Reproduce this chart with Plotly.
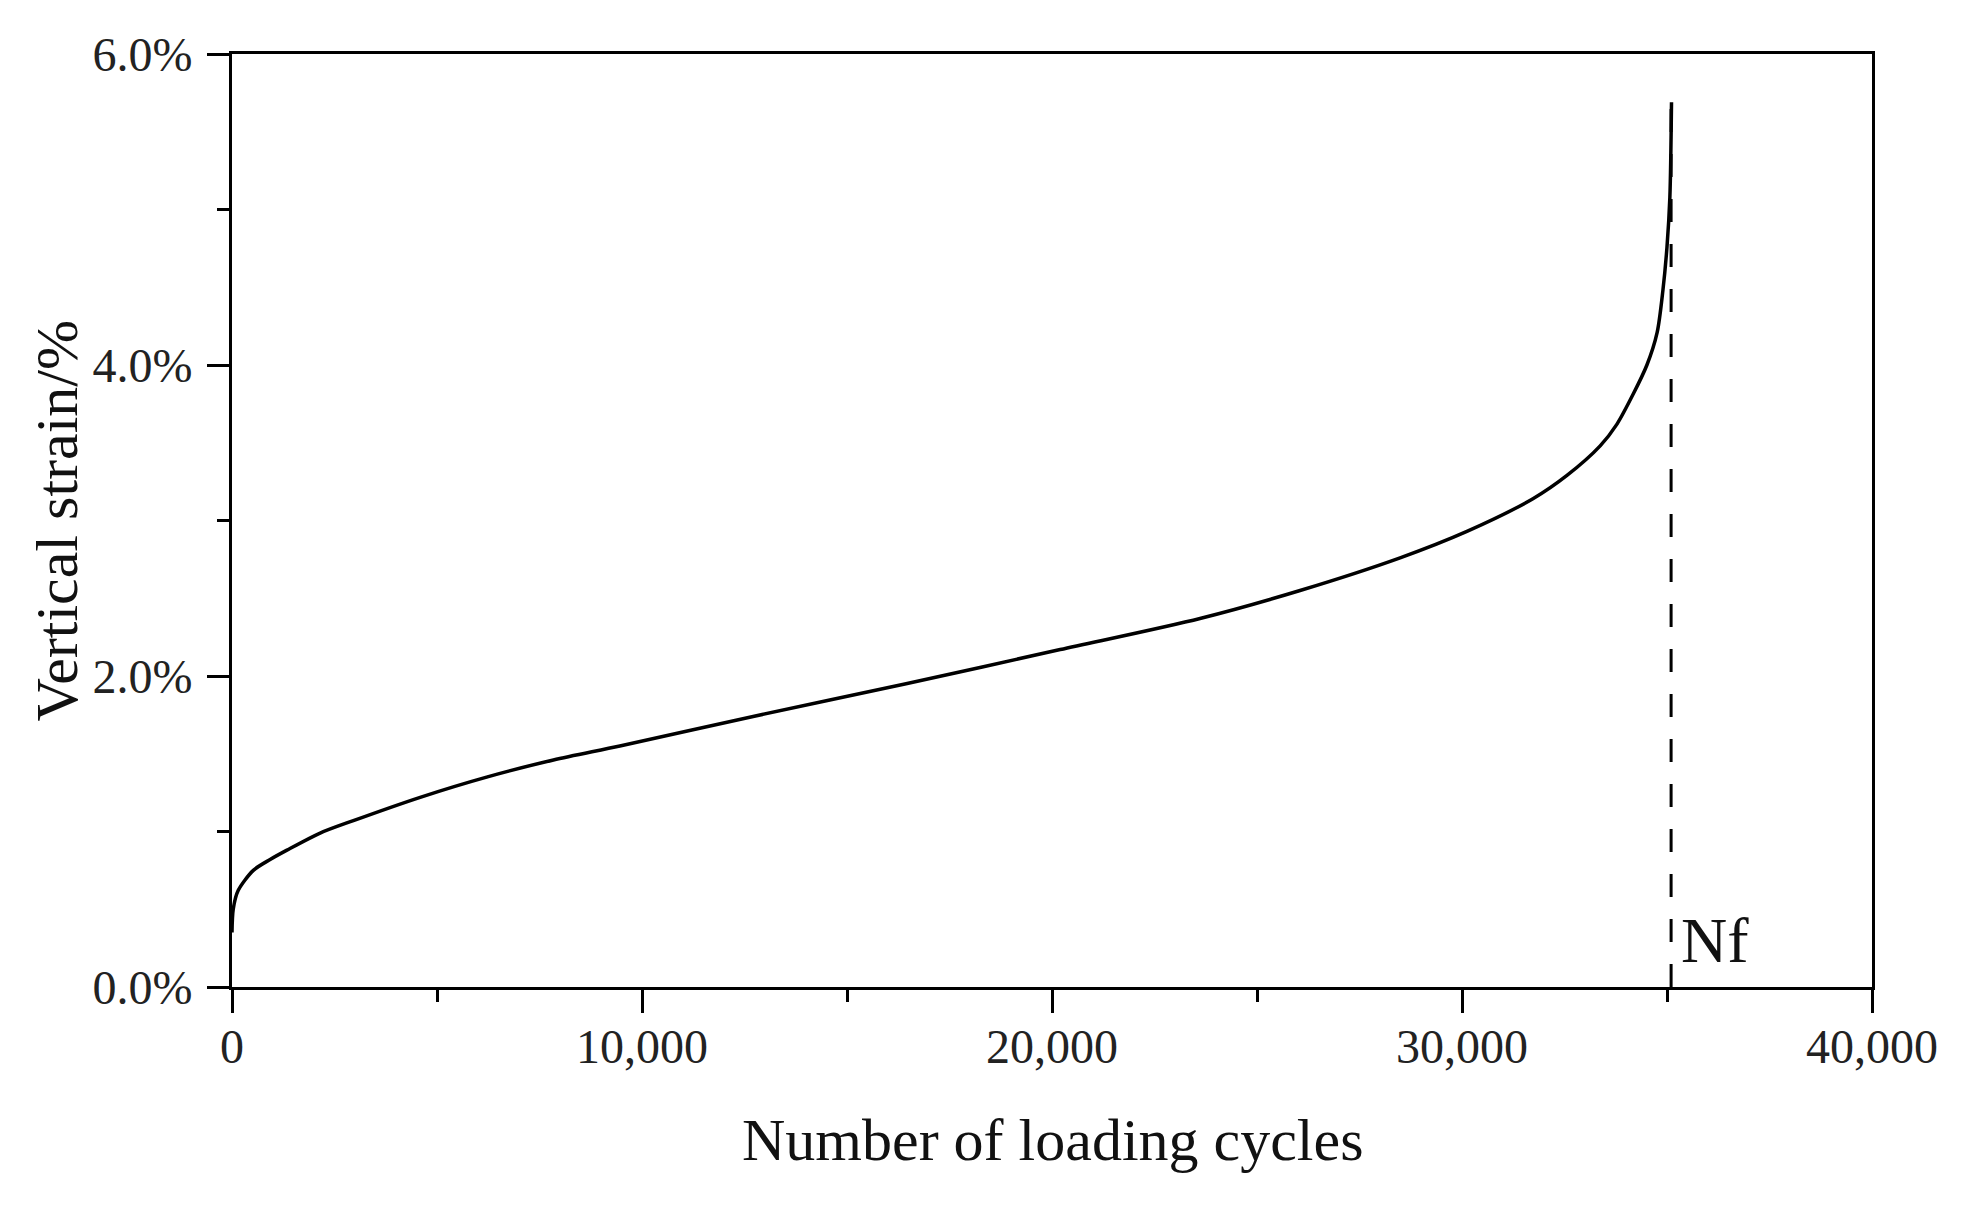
import plotly.graph_objects as go

# Data
cycles = [0, 30, 150, 520, 930, 1340, 2150, 2960, 4590, 6210, 7840, 9460, 12710,
          16440, 20200, 23610, 26050, 28490, 30120, 31730, 32560, 33370, 33780,
          34170, 34510, 34760, 34900, 35000, 35070, 35110]
strain_pct = [0.35, 0.50, 0.62, 0.75, 0.82, 0.88, 0.99, 1.07, 1.22, 1.35, 1.46, 1.55, 1.74,
              1.95, 2.17, 2.37, 2.55, 2.76, 2.93, 3.14, 3.29, 3.48, 3.62,
              3.81, 4.00, 4.21, 4.48, 4.76, 5.08, 5.69]
nf_cycles = 35100
nf_line_y = [0.0, 5.68]
y_ticks = [0, 2, 4, 6]
y_tick_labels = ["0.0%", "2.0%", "4.0%", "6.0%"]
x_ticks = [0, 10000, 20000, 30000, 40000]
x_tick_labels = ["0", "10,000", "20,000", "30,000", "40,000"]

FONT = "Liberation Serif"

fig = go.Figure()
fig.add_trace(go.Scatter(x=cycles, y=strain_pct, mode="lines",
                         line=dict(color="black", width=3.5, shape="spline", smoothing=0.8),
                         showlegend=False))
fig.add_trace(go.Scatter(x=[nf_cycles, nf_cycles], y=nf_line_y, mode="lines",
                         line=dict(color="black", width=3, dash="23px,22px"),
                         showlegend=False))

fig.update_layout(
    width=1946, height=1192,
    margin=dict(l=224, r=82, t=46, b=213),
    paper_bgcolor="white", plot_bgcolor="white",
    font=dict(family=FONT, color="#111", size=48),
    xaxis=dict(range=[0, 40000], tickvals=x_ticks, ticktext=x_tick_labels,
               ticks="outside", ticklen=23, tickwidth=3, tickcolor="black",
               showline=True, linecolor="black", linewidth=3, mirror=True,
               showgrid=False, zeroline=False, ticklabelstandoff=-8,
               tickfont=dict(family=FONT, size=48, color="#222"),
               minor=dict(dtick=5000, ticks="outside", ticklen=12, tickwidth=3,
                          tickcolor="black", showgrid=False)),
    yaxis=dict(range=[0, 6], tickvals=y_ticks, ticktext=y_tick_labels,
               ticks="outside", ticklen=22, tickwidth=3, tickcolor="black",
               showline=True, linecolor="black", linewidth=3, mirror=True,
               showgrid=False, zeroline=False, ticklabelstandoff=5,
               tickfont=dict(family=FONT, size=48, color="#222"),
               minor=dict(dtick=1, ticks="outside", ticklen=12, tickwidth=3,
                          tickcolor="black", showgrid=False)),
    annotations=[
        dict(text="Number of loading cycles", xref="paper", yref="paper",
             x=0.5, y=-0.164, xanchor="center", yanchor="middle", showarrow=False,
             font=dict(family=FONT, size=60, color="#111")),
        dict(text="Vertical strain/%", xref="paper", yref="paper",
             x=-0.1073, y=0.5, xanchor="center", yanchor="middle", showarrow=False,
             textangle=-90, font=dict(family=FONT, size=60, color="#111")),
        dict(text="Nf", xref="x", yref="y", x=nf_cycles, y=0.30,
             xanchor="left", yanchor="middle", xshift=8, showarrow=False,
             font=dict(family=FONT, size=64, color="#111")),
    ],
)

fig.write_html("out.html")
